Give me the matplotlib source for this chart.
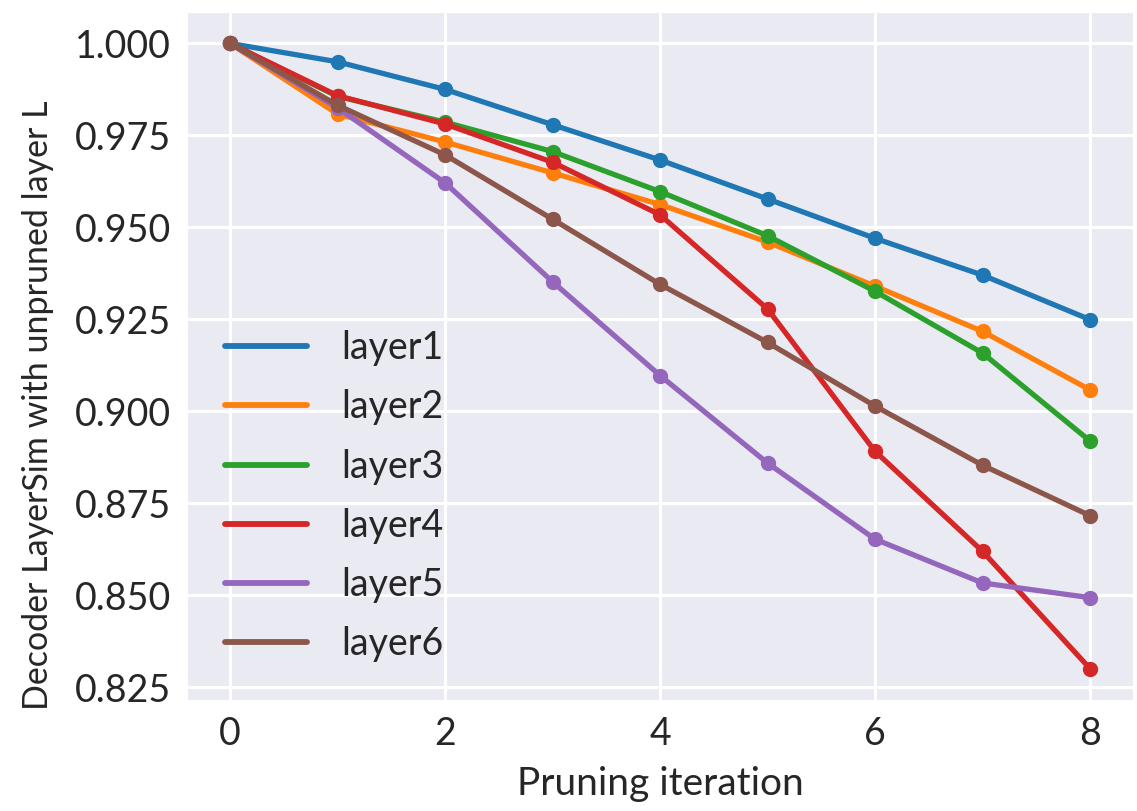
import matplotlib
matplotlib.use("Agg")
import matplotlib.pyplot as plt
from matplotlib.lines import Line2D
import seaborn as sns

iterations = [0, 1, 2, 3, 4, 5, 6, 7, 8]
layer1 = [1.000, 0.9950, 0.9875, 0.9779, 0.9683, 0.9577, 0.9470, 0.9370, 0.9249]
layer2 = [1.000, 0.9808, 0.9732, 0.9648, 0.9562, 0.9460, 0.9340, 0.9217, 0.9058]
layer3 = [1.000, 0.9856, 0.9786, 0.9706, 0.9597, 0.9477, 0.9326, 0.9158, 0.8919]
layer4 = [1.000, 0.9858, 0.9781, 0.9677, 0.9534, 0.9278, 0.8891, 0.8619, 0.8300]
layer5 = [1.000, 0.9825, 0.9621, 0.9352, 0.9097, 0.8859, 0.8652, 0.8533, 0.8493]
layer6 = [1.000, 0.9832, 0.9697, 0.9522, 0.9345, 0.9187, 0.9014, 0.8853, 0.8716]
series = [("layer1", layer1), ("layer2", layer2), ("layer3", layer3),
          ("layer4", layer4), ("layer5", layer5), ("layer6", layer6)]
colors = ["#1f77b4", "#ff7f0e", "#2ca02c", "#d62728", "#9467bd", "#8c564b"]

sns.set_style("darkgrid")
plt.rcParams['font.family'] = ['Lato', 'DejaVu Sans']
plt.rcParams['text.color'] = '#262626'
plt.rcParams['xtick.color'] = '#262626'
plt.rcParams['ytick.color'] = '#262626'
plt.rcParams['axes.labelcolor'] = '#262626'

fig = plt.figure(figsize=(11.37, 8.11), dpi=100)
ax = fig.add_axes([0.1645, 0.137, 0.832, 0.848])

handles = []
for (name, vals), c in zip(series, colors):
    ax.plot(iterations, vals, color=c, lw=3.8, marker='o', ms=10, label=name,
            solid_capstyle='round')
    handles.append(Line2D([], [], color=c, lw=4.2, solid_capstyle='round', label=name))

ax.grid(True, color='white', lw=2.2)
ax.set_xticks([0, 2, 4, 6, 8])
ax.set_yticks([0.825, 0.850, 0.875, 0.900, 0.925, 0.950, 0.975, 1.000])
ax.set_yticklabels(["0.825", "0.850", "0.875", "0.900", "0.925", "0.950", "0.975", "1.000"])
ax.tick_params(labelsize=27, pad=8)
ax.set_xlabel("Pruning iteration", fontsize=28, labelpad=10)
ylab = ax.set_ylabel("Decoder LayerSim with unpruned layer L", fontsize=24.5)
ylab.set_horizontalalignment('left')
ylab.set_verticalalignment('center')
ylab.set_rotation_mode('anchor')
ax.yaxis.set_label_coords(-0.158, -0.0147)

ax.legend(handles=handles, loc='lower left', frameon=False, fontsize=27,
          handlelength=2.2, labelspacing=0.62, borderaxespad=0.6,
          handletextpad=0.9)

fig.savefig("out.png", dpi=100)
